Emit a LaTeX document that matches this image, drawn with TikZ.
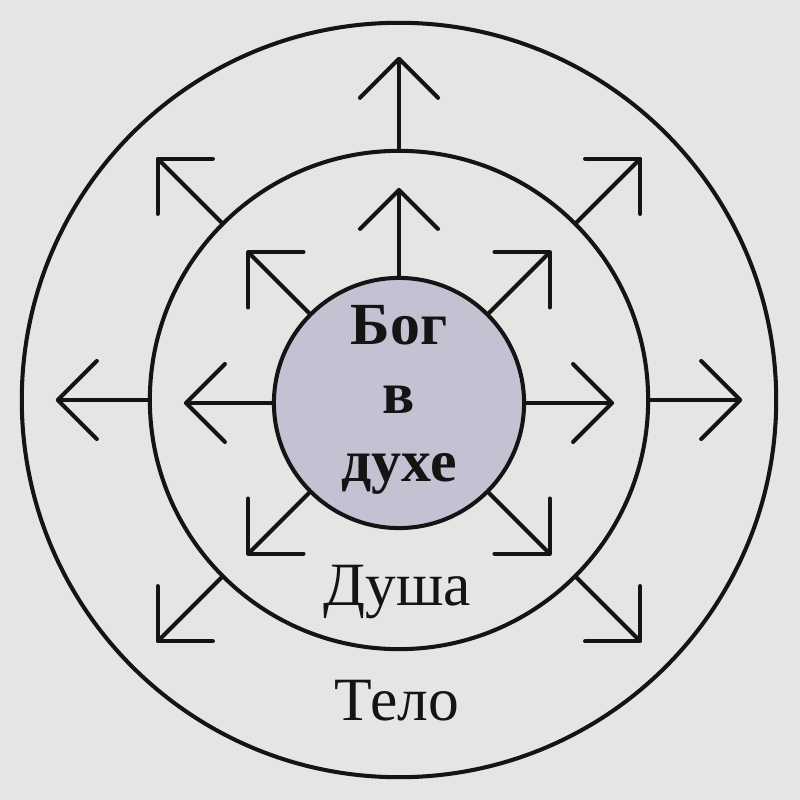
\documentclass[tikz,border=0pt]{standalone}
\usepackage{fontspec}
\setmainfont{Liberation Serif}
\usetikzlibrary{arrows.meta}
\definecolor{bg}{HTML}{E7E5E3}
\definecolor{core}{HTML}{C4C2D2}
\definecolor{ink}{HTML}{141414}
\begin{document}
\begin{tikzpicture}[x=0.01cm,y=0.01cm,
  ring/.style={circle,draw=ink,line width=1.15pt,inner sep=0pt,outer sep=0pt},
  ray/.style={draw=ink,line width=1.15pt,-{Straight Barb[length=0.39cm,width=0.78cm,round]}},
  lbl/.style={text=ink,font=\fontsize{17.5}{21}\selectfont,anchor=base}]
\fill[bg] (-399,-400) rectangle (401,400);
\useasboundingbox (-399,-400) rectangle (401,400);
\node[ring,minimum size=7.54cm] (outer) at (0,0) {};
\node[ring,minimum size=4.98cm] (mid) at (0,0) {};
\node[ring,fill=core,minimum size=2.5cm] (in) at (0,-3) {};
\node[text=ink,align=center,font=\bfseries\fontsize{17}{19.4}\selectfont] (god) at (0,0) {Бог\\в\\духе};
\node[lbl] (soul) at (-2,-205) {Душа};
\node[lbl] (body) at (-2,-320) {Тело};
\foreach \a in {0,45,90,135,180,225,315}{
  \draw[ray] (in.\a) -- ([shift={(\a:2.15cm)}]in.center);
  \draw[ray] (mid.\a) -- ([shift={(\a:3.43cm)}]mid.center);
}
\end{tikzpicture}
\end{document}
